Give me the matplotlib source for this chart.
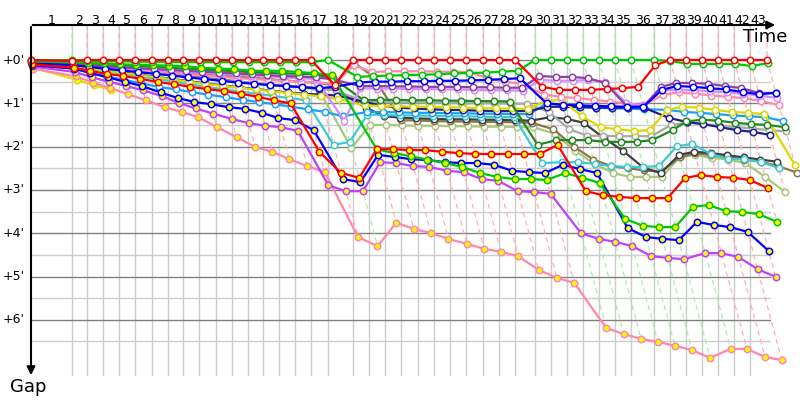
import matplotlib.pyplot as plt

# leader's race time (minutes) at the end of each lap, index 0 = start
lap_end = [0.0, 3.57, 4.87, 6.26, 7.65, 9.04, 10.52, 11.91, 13.22, 14.61, 16.09,
           17.48, 18.87, 20.17, 21.57, 22.96, 24.35, 25.83, 28.0, 29.39, 30.78,
           32.17, 33.65, 35.04, 36.43, 37.83, 39.3, 40.7, 42.09, 43.83, 45.22,
           46.61, 48.0, 49.39, 50.78, 52.17, 54.17, 55.57, 56.96, 58.35, 59.74,
           61.13, 62.52, 64.0]
lap_labels = [str(i) for i in range(1, 44)]
gap_ticks = [0, 1, 2, 3, 4, 5, 6]
gap_tick_labels = ["+0'", "+1'", "+2'", "+3'", "+4'", "+5'", "+6'"]

# gap to the leader in minutes at the end of each lap (lap 0 first)
gap_red_a = [0.0, 0.02, 0, 0, 0, 0, 0, 0, 0, 0, 0, 0, 0, 0, 0, 0, 0, 0.58,
             0, 0, 0, 0, 0, 0, 0, 0, 0, 0, 0,
             0.62, 0.69, 0.69, 0.69, 0.67, 0.65, 0.62, 0.12, 0, 0, 0, 0, 0, 0, 0]
gap_green_a = [0.01, 0, 0.02, 0.03, 0.03, 0.04, 0.04, 0.04, 0.05, 0.05, 0.05, 0.05,
               0.05, 0.05, 0.05, 0.05, 0.05, 0,
               0.39, 0.37, 0.36, 0.35, 0.34, 0.33, 0.31, 0.3, 0.29, 0.27, 0.25,
               0, 0, 0, 0, 0, 0, 0, 0, 0.02, 0.09, 0.09, 0.09, 0.09, 0.14, 0.07]
gap_green_b = [0.03, 0.05, 0.07, 0.08, 0.1, 0.11, 0.12, 0.13, 0.14, 0.18, 0.2, 0.21,
               0.25, 0.25, 0.25, 0.28, 0.3, 0.35,
               2.06, 2.15, 2.22, 2.3, 2.38, 2.47, 2.61, 2.7, 2.75, 2.75, 2.77,
               2.61, 2.72, 2.84, 3.67, 3.83, 3.86, 3.86, 3.39, 3.35, 3.49, 3.51, 3.56, 3.74]
gap_red_b = [0.1, 0.18, 0.25, 0.32, 0.37, 0.43, 0.51, 0.56, 0.62, 0.67, 0.72, 0.78,
             0.85, 0.93, 1.0, 2.12, 2.61, 2.72,
             2.06, 2.06, 2.08, 2.08, 2.12, 2.15, 2.17, 2.17, 2.17, 2.17, 2.17,
             1.96, 3.03, 3.12, 3.16, 3.19, 3.19, 3.19, 2.72, 2.66, 2.7, 2.72, 2.77, 2.96]
gap_blue_b = [0.12, 0.2, 0.3, 0.4, 0.5, 0.6, 0.75, 0.88, 0.97, 1.02, 1.09, 1.13,
              1.22, 1.34, 1.39, 1.62, 2.75, 2.82,
              2.19, 2.24, 2.29, 2.31, 2.36, 2.38, 2.38, 2.42, 2.56, 2.59, 2.61,
              2.42, 2.52, 2.61, 3.88, 4.09, 4.13, 4.16, 3.74, 3.81, 3.86, 3.97, 4.41]
gap_violet_b = [0.15, 0.28, 0.4, 0.5, 0.6, 0.7, 0.83, 1.0, 1.12, 1.24, 1.36, 1.46,
                1.52, 1.55, 1.64, 2.89, 3.03, 3.03,
                2.36, 2.38, 2.45, 2.47, 2.56, 2.59, 2.75, 2.79, 3.03, 3.05, 3.09,
                4.0, 4.13, 4.2, 4.3, 4.53, 4.57, 4.6, 4.46, 4.46, 4.55, 4.83, 5.01]
gap_pink_b = [0.2, 0.38, 0.52, 0.65, 0.79, 0.93, 1.09, 1.2, 1.32, 1.55, 1.78, 2.01,
              2.12, 2.29, 2.45, 2.59, 4.09, 4.3,
              3.76, 3.9, 4.0, 4.13, 4.25, 4.36, 4.43, 4.53, 4.85, 5.03, 5.15,
              6.19, 6.33, 6.44, 6.51, 6.6, 6.7, 6.88, 6.67, 6.67, 6.86, 6.93]
gap_yellow_b = [0.18, 0.46, 0.58, 0.69]
gap_dkgreen = [0.04, 0.06, 0.08, 0.1, 0.12, 0.14, 0.16, 0.18, 0.2, 0.22, 0.24, 0.26,
               0.28, 0.3, 0.31, 0.32, 0.33, 0.42,
               0.93, 0.92, 0.92, 0.93, 0.93, 0.94, 0.94, 0.95, 0.95, 0.96, 1.96,
               1.85, 1.85, 1.85, 1.89, 1.89, 1.89, 1.85, 1.62, 1.42, 1.38, 1.4, 1.45,
               1.48, 1.5, 1.55]
gap_dkpurple = [0.06, 0.09, 0.12, 0.15, 0.17, 0.19, 0.21, 0.23, 0.25, 0.27, 0.29,
                0.31, 0.33, 0.35, 0.37, 0.38, 0.4, 0.45,
                0.6, 0.6, 0.61, 0.61, 0.62, 0.62, 0.62, 0.63, 0.63, 0.64, 0.64,
                0.37, 0.39, 0.39, 0.42, 0.53, 1.08, 1.08, 0.62, 0.53, 0.53, 0.55, 0.6,
                0.65, 0.76, 0.76]
gap_ltpurple = [0.07, 0.1, 0.13, 0.16, 0.19, 0.21, 0.23, 0.26, 0.28, 0.3, 0.32, 0.34,
                0.36, 0.38, 0.4, 0.42, 0.44, 1.4,
                0.65, 0.66, 0.66, 0.67, 0.67, 0.68, 0.68, 0.69, 0.7, 0.7, 0.71,
                0.46, 0.48, 0.48, 0.46, 0.5, 1.0, 1.05, 0.7, 0.68, 0.7, 0.72, 0.75,
                0.78, 0.82, 0.88]
gap_pink_a = [0.08, 0.12, 0.15, 0.18, 0.21, 0.24, 0.27, 0.3, 0.33, 0.36, 0.39, 0.42,
              0.44, 0.46, 0.48, 0.5, 0.52, 0.55,
              0.12, 0.28, 0.26, 0.26, 0.26, 0.27, 0.27, 0.28, 0.42, 0.5, 0.55,
              0.8, 0.85, 0.88, 0.92, 0.96, 1.0, 1.05, 0.8, 0.75, 0.78, 0.82, 0.85,
              0.88, 0.95, 1.04]
gap_blue_a = [0.08, 0.12, 0.16, 0.2, 0.24, 0.28, 0.32, 0.36, 0.4, 0.44, 0.48, 0.52,
              0.55, 0.58, 0.6, 0.63, 0.65, 0.62,
              0.52, 0.5, 0.5, 0.49, 0.49, 0.48, 0.48, 0.47, 0.46, 0.44, 0.42,
              1.0, 1.03, 1.05, 1.06, 1.07, 1.08, 1.08, 0.69, 0.6, 0.62, 0.65, 0.68,
              0.74, 0.79, 0.76]
gap_navy = [0.09, 0.14, 0.19, 0.24, 0.29, 0.34, 0.39, 0.44, 0.49, 0.54, 0.59, 0.63,
            0.67, 0.71, 0.75, 0.78, 0.8, 0.82,
            0.97, 1.05, 1.1, 1.12, 1.14, 1.15, 1.16, 1.17, 1.18, 1.18, 1.18,
            1.08, 1.08, 1.09, 1.1, 1.1, 1.1, 1.1, 1.34, 1.43, 1.48, 1.55, 1.62,
            1.66, 1.73]
gap_yellow_a = [0.1, 0.15, 0.2, 0.25, 0.3, 0.35, 0.4, 0.45, 0.5, 0.55, 0.6, 0.64,
                0.68, 0.72, 0.76, 0.8, 0.84, 0.9,
                1.05, 1.06, 1.07, 1.08, 1.08, 1.09, 1.1, 1.11, 1.12, 1.12, 1.13,
                0.95, 0.92, 1.3, 1.55, 1.6, 1.64, 1.62, 1.15, 1.08, 1.1, 1.15, 1.2,
                1.22, 1.25, 2.42]
gap_grey = [0.07, 0.11, 0.15, 0.19, 0.23, 0.27, 0.31, 0.35, 0.39, 0.43, 0.47, 0.5,
            0.53, 0.56, 0.59, 0.62, 0.65, 0.7,
            0.97, 0.97, 0.98, 0.98, 0.99, 0.99, 1.0, 1.0, 1.0, 1.01, 1.01,
            1.2, 1.6, 1.75, 1.75, 1.76, 1.76, 1.76, 1.5, 1.45, 1.48, 1.52, 1.55,
            1.58, 1.62, 1.65]
gap_dkgrey = [0.06, 0.1, 0.14, 0.18, 0.22, 0.26, 0.3, 0.34, 0.38, 0.42, 0.46, 0.5,
              0.54, 0.57, 0.6, 0.63, 0.66, 0.69,
              1.1, 1.3, 1.33, 1.35, 1.36, 1.37, 1.37, 1.38, 1.38, 1.39, 1.4,
              1.32, 1.36, 1.45, 1.8, 2.1, 2.49, 2.61, 2.19, 2.12, 2.15, 2.2, 2.25,
              2.3, 2.35]
gap_olive = [0.05, 0.08, 0.11, 0.14, 0.17, 0.2, 0.23, 0.26, 0.29, 0.32, 0.35, 0.38,
             0.41, 0.44, 0.47, 0.5, 0.53, 0.58,
             0.05, 0.39, 1.39, 1.4, 1.41, 1.42, 1.42, 1.43, 1.43, 1.44, 1.45,
             1.6, 2.0, 2.3, 2.45, 2.5, 2.55, 2.58, 2.25, 2.15, 2.2, 2.25, 2.3,
             2.35, 2.45, 2.6]
gap_ltgreen = [0.05, 0.09, 0.13, 0.17, 0.21, 0.25, 0.29, 0.33, 0.37, 0.41, 0.45,
               0.49, 0.53, 0.57, 0.6, 0.63, 0.7, 2.03,
               1.5, 1.5, 1.51, 1.52, 1.52, 1.53, 1.53, 1.54, 1.54, 1.55, 1.55,
               1.7, 2.1, 2.4, 2.61, 2.7, 2.7, 2.7, 2.24, 2.2, 2.26, 2.3, 2.38,
               2.7, 3.05]
gap_cyan = [0.08, 0.14, 0.2, 0.26, 0.32, 0.38, 0.44, 0.5, 0.56, 0.62, 0.68, 0.73,
            0.78, 0.83, 0.88, 0.93, 1.96, 1.89,
            1.26, 1.27, 1.28, 1.28, 1.29, 1.3, 1.3, 1.31, 1.32, 1.32, 2.38,
            2.36, 2.36, 2.4, 2.45, 2.47, 2.47, 2.45, 1.99, 1.94, 2.17, 2.29, 2.29,
            2.36, 2.49]
gap_ltblue = [0.1, 0.2, 0.3, 0.38, 0.46, 0.54, 0.62, 0.68, 0.74, 0.8, 0.86, 0.92,
              0.97, 1.02, 1.08, 1.14, 1.2, 1.3,
              1.2, 1.2, 1.21, 1.22, 1.22, 1.23, 1.23, 1.24, 1.24, 1.25, 1.25,
              1.0, 1.05, 1.08, 1.1, 1.12, 1.12, 1.14, 1.15, 1.2, 1.22, 1.25, 1.28,
              1.3, 1.32, 1.41]

# (gaps, line colour, marker fill), drawn in this order
drivers = [
    (gap_ltgreen, '#a8c878', 'white'),
    (gap_olive, '#887850', 'white'),
    (gap_dkgrey, '#404040', 'white'),
    (gap_grey, '#a8a8a8', 'white'),
    (gap_cyan, '#40c8d0', 'white'),
    (gap_ltblue, '#1a9fff', 'white'),
    (gap_navy, '#202090', 'white'),
    (gap_yellow_a, '#dcd800', 'white'),
    (gap_dkgreen, '#208a20', 'white'),
    (gap_pink_a, '#ff88aa', 'white'),
    (gap_ltpurple, '#d48cff', 'white'),
    (gap_dkpurple, '#9040a0', 'white'),
    (gap_blue_a, '#0000ff', 'white'),
    (gap_yellow_b, '#e0e000', '#ffff00'),
    (gap_pink_b, '#ff88aa', '#ffff00'),
    (gap_violet_b, '#c040ff', '#ffff00'),
    (gap_blue_b, '#0000ff', '#ffff00'),
    (gap_green_b, '#00c800', '#ffff00'),
    (gap_red_b, '#ff0000', '#ffff00'),
    (gap_green_a, '#00c800', 'white'),
    (gap_red_a, '#ff0000', 'white'),
]
leader_dash = {'#ff0000': '#ffb0b0', '#00c800': '#b0e8b0'}

# 11.5 px per minute of race time, 43.3 px per minute of gap
fig = plt.figure(figsize=(8, 4), dpi=100)
ax = fig.add_axes([0, 0, 1, 1])
ax.set_xlim(-31 / 11.5, 769 / 11.5)
ax.set_ylim(340 / 43.3, -60 / 43.3)
ax.axis('off')

y_top = -35 / 43.3
y_bot = 315 / 43.3
x_right = 739 / 11.5

# grid
for t in lap_end[1:43]:
    ax.plot([t, t], [y_top, y_bot], color='#cccccc', lw=1, zorder=1)
for g in gap_ticks:
    ax.plot([0, x_right], [g, g], color='#808080', lw=1, zorder=1.2)
    ax.plot([0, x_right], [g + 0.5, g + 0.5], color='#cccccc', lw=1, zorder=1.1)

# lap lines: every car's crossing of that lap lies on them
for lap in range(1, len(lap_end)):
    gaps = [(d[0][lap], d[1]) for d in drivers if len(d[0]) > lap]
    gmax = max(g for g, _ in gaps)
    lead = min(gaps, key=lambda p: p[0])[1]
    t = lap_end[lap]
    ax.plot([t, t, t + gmax], [y_top, 0, gmax], color=leader_dash.get(lead, '#ffb0b0'),
            lw=0.9, ls=(0, (4, 3)), zorder=1.5)

# cars
for gaps, col, fill in drivers:
    xs = [lap_end[i] + g for i, g in enumerate(gaps)]
    ax.plot(xs, gaps, color=col, lw=1.6, marker='o', ms=4.6, mfc=fill, mec=col,
            mew=1.1, zorder=3)

# axes with arrows
ax.annotate('', xy=(747 / 11.5, y_top), xytext=(-0.1, y_top),
            arrowprops=dict(arrowstyle='-|>', color='black', lw=1.5, mutation_scale=12),
            zorder=5)
ax.annotate('', xy=(0, 318 / 43.3), xytext=(0, y_top - 0.02),
            arrowprops=dict(arrowstyle='-|>', color='black', lw=1.5, mutation_scale=12),
            zorder=5)
ax.text(734 / 11.5, -23 / 43.3, 'Time', fontsize=13, ha='center', va='center')
ax.text(-3 / 11.5, 327 / 43.3, 'Gap', fontsize=13, ha='center', va='center')

for g, lab in zip(gap_ticks, gap_tick_labels):
    ax.text(-6 / 11.5, g, lab, fontsize=9, ha='right', va='center')
for i, lab in enumerate(lap_labels):
    ax.text((lap_end[i] + lap_end[i + 1]) / 2, y_top - 0.03, lab, fontsize=9,
            ha='center', va='baseline')

fig.savefig('out.png', dpi=100)
